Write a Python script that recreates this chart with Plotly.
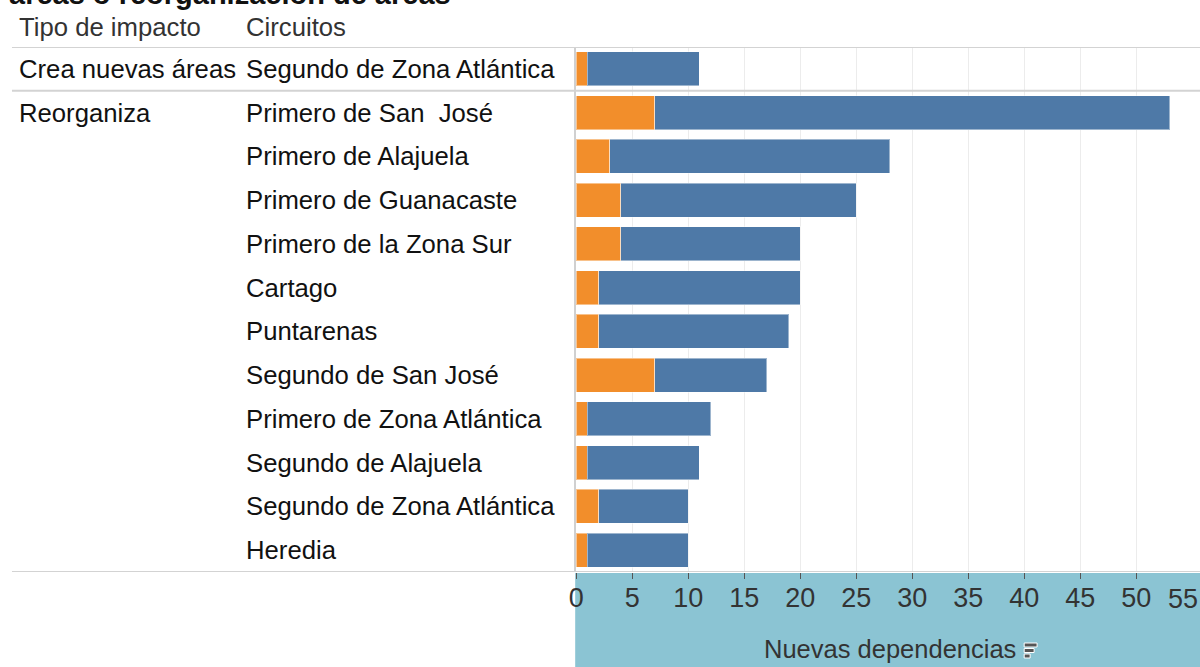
import plotly.graph_objects as go

# ---- data ----
impact_types = ["Crea nuevas áreas", "Reorganiza"]
impact_of_row = ["Crea nuevas áreas", "Reorganiza", "Reorganiza", "Reorganiza", "Reorganiza",
                 "Reorganiza", "Reorganiza", "Reorganiza", "Reorganiza", "Reorganiza",
                 "Reorganiza", "Reorganiza"]
circuits = ["Segundo de Zona Atlántica", "Primero de San  José", "Primero de Alajuela",
            "Primero de Guanacaste", "Primero de la Zona Sur", "Cartago", "Puntarenas",
            "Segundo de San José", "Primero de Zona Atlántica", "Segundo de Alajuela",
            "Segundo de Zona Atlántica", "Heredia"]
orange_vals = [1, 7, 3, 4, 4, 2, 2, 7, 1, 1, 2, 1]
total_vals = [11, 53, 28, 25, 20, 20, 19, 17, 12, 11, 10, 10]
blue_vals = [t - o for t, o in zip(total_vals, orange_vals)]
tick_vals = [0, 5, 10, 15, 20, 25, 30, 35, 40, 45, 50, 55]
header_labels = ["Tipo de impacto", "Circuitos"]
axis_title = "Nuevas dependencias"
top_title = "áreas o reorganización de áreas"

W, H = 1200, 667
FONT = "Liberation Sans, Arial, sans-serif"
ORANGE = "#F28E2B"
BLUE = "#4E79A7"
BAND = "#8bc4d3"

def px_x(x):
    return x / W

def px_y(y):
    return (H - y) / H

rows = list(range(len(circuits)))

fig = go.Figure()
fig.add_trace(go.Bar(
    y=rows, x=orange_vals, orientation="h", width=0.78,
    marker=dict(color=ORANGE, line=dict(color="rgba(255,255,255,0.45)", width=1)),
    showlegend=False, hoverinfo="x+y"))
fig.add_trace(go.Bar(
    y=rows, x=blue_vals, orientation="h", width=0.78,
    marker=dict(color=BLUE, line=dict(color="rgba(255,255,255,0.45)", width=1)),
    showlegend=False, hoverinfo="x+y"))

COL1, COL2 = 9, 238
annotations = []
# row labels
shown = set()
for i, (imp, circ) in enumerate(zip(impact_of_row, circuits)):
    if imp not in shown:
        shown.add(imp)
        annotations.append(dict(x=px_x(COL1), y=i, xref="paper", yref="y", text=imp,
                                xanchor="left", yanchor="middle", showarrow=False,
                                font=dict(family=FONT, size=25.7, color="#111111")))
    annotations.append(dict(x=px_x(COL2), y=i, xref="paper", yref="y", text=circ,
                            xanchor="left", yanchor="middle", showarrow=False,
                            font=dict(family=FONT, size=25.7, color="#111111")))
# headers
for txt, xp in zip(header_labels, [COL1, COL2]):
    annotations.append(dict(x=px_x(xp), y=px_y(27), xref="paper", yref="paper", text=txt,
                            xanchor="left", yanchor="middle", showarrow=False,
                            font=dict(family=FONT, size=25.7, color="#333333")))
# top (cut-off) title
annotations.append(dict(x=px_x(-1), y=px_y(-6), xref="paper", yref="paper",
                        text="<b>" + top_title + "</b>", xanchor="left", yanchor="middle",
                        showarrow=False, font=dict(family=FONT, size=29, color="#111111")))
# last tick label (shifted inside like the original)
annotations.append(dict(x=tick_vals[-1], y=px_y(599), xref="x", yref="paper",
                        text=str(tick_vals[-1]), xanchor="center", yanchor="middle",
                        xshift=-9, showarrow=False,
                        font=dict(family=FONT, size=27, color="#333333")))
# axis title
annotations.append(dict(x=(px_x(575) + 1) / 2, y=px_y(649), xref="paper", yref="paper",
                        text=axis_title, xanchor="center", yanchor="middle", showarrow=False,
                        font=dict(family=FONT, size=25.5, color="#333333")))

shapes = []
# axis band
shapes.append(dict(type="rect", xref="paper", yref="paper", x0=px_x(571), x1=1,
                   y0=0, y1=px_y(573), fillcolor=BAND, line=dict(width=0), layer="below"))
# horizontal separators
n = len(circuits)
for yb in [-0.5, 0.5, n - 0.5]:
    shapes.append(dict(type="line", xref="paper", yref="y", x0=px_x(4), x1=1,
                       y0=yb, y1=yb, line=dict(color="#d3d3d3", width=2), layer="above"))
# sort icon next to axis title
for (x0, x1, y0, y1) in [(1023, 1036, 643, 647), (1023, 1033, 648.5, 652.5), (1023, 1029, 654, 658)]:
    shapes.append(dict(type="rect", xref="paper", yref="paper", x0=px_x(x0), x1=px_x(x1),
                       y0=px_y(y1), y1=px_y(y0), fillcolor="#555555",
                       line=dict(color="#ffffff", width=1)))

fig.update_layout(
    width=W, height=H, autosize=False,
    margin=dict(l=0, r=0, t=0, b=0),
    paper_bgcolor="white", plot_bgcolor="white",
    barmode="stack", bargap=0.22,
    annotations=annotations, shapes=shapes,
    xaxis=dict(domain=[px_x(572), 1], range=[0, 55.7], tickvals=tick_vals[:-1],
               showgrid=True, gridcolor="#ececec", gridwidth=1, zeroline=False,
               ticks="outside", ticklen=6, tickcolor="#555555", tickwidth=1,
               ticklabelstandoff=-4,
               tickfont=dict(family=FONT, size=27, color="#333333"),
               showline=False, fixedrange=True),
    yaxis=dict(domain=[px_y(572), px_y(47)], range=[n - 0.5, -0.5],
               showticklabels=False, showgrid=False, zeroline=False,
               showline=True, linecolor="#d0d0d0", linewidth=2, ticks="",
               fixedrange=True),
)

fig.write_html("out.html", config={"displayModeBar": False},
               post_script="document.body.style.margin='0';document.body.style.overflow='hidden';")
